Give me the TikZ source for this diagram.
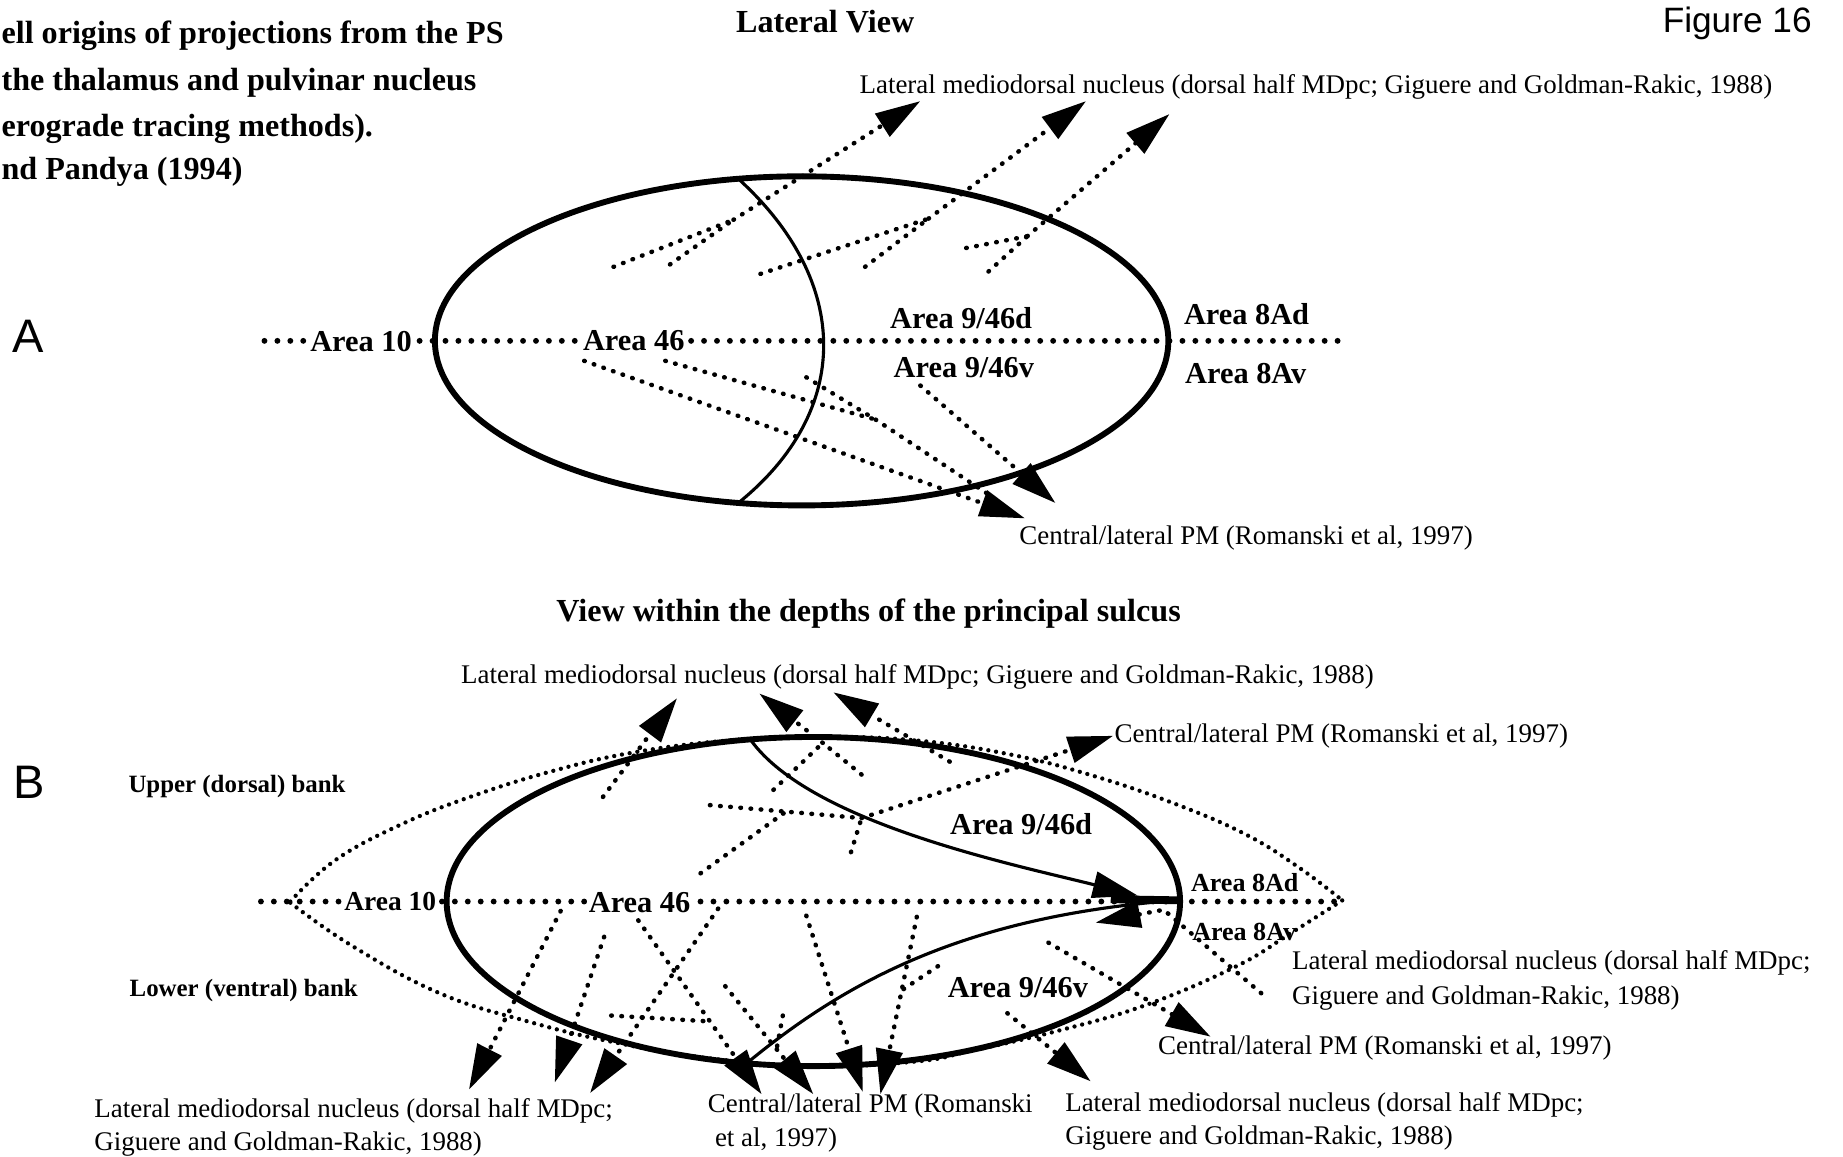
\documentclass[tikz,border=0pt]{standalone}
\usepackage{fontspec}
\setmainfont{Liberation Serif}
\newfontfamily\sansf{Liberation Sans}
\usetikzlibrary{arrows.meta}
\begin{document}
\begin{tikzpicture}[x=0.6pt,y=-0.6pt,
  >={Triangle[length=23pt,width=13.5pt]},
  hline/.style={line width=3pt,dash pattern=on 0pt off 6.6pt,line cap=round},
  dline/.style={line width=2.3pt,dash pattern=on 0.3pt off 4.9pt,line cap=round},
  lens/.style={line width=2.2pt,dash pattern=on 0pt off 4pt,line cap=round},
  oval/.style={line width=3pt},
  curve/.style={line width=1.6pt},
  txt/.style={inner sep=0pt,anchor=west,font=\fontsize{13.75}{16}\selectfont},
  area/.style={inner sep=0pt,anchor=west,font=\bfseries\fontsize{15.5}{18}\selectfont},
  areas/.style={inner sep=0pt,anchor=west,font=\bfseries\fontsize{13.3}{16}\selectfont},
  bank/.style={inner sep=0pt,anchor=west,font=\bfseries\fontsize{12.7}{15}\selectfont},
  head/.style={inner sep=0pt,font=\bfseries\fontsize{16.4}{19}\selectfont},
  panel/.style={inner sep=0pt,font=\sansf\fontsize{24}{28}\selectfont},
  mask/.style={fill=white,inner xsep=1pt}
]
\useasboundingbox (0,0) rectangle (1568,984);

% ---------- headings ----------
\node[head,anchor=base west] (t1) at (1,37) {ell origins of projections from the PS};
\node[head,anchor=base west] (t2) at (1,77) {the thalamus and pulvinar nucleus};
\node[head,anchor=base west] (t3) at (1,116) {erograde tracing methods).};
\node[head,anchor=base west] (t4) at (1,153) {nd Pandya (1994)};
\node[head,anchor=base west,font=\bfseries\fontsize{16.4}{20}\selectfont] (lv) at (626,28) {Lateral View};
\node[panel,font=\sansf\fontsize{18}{21}\selectfont] (fig) at (1478,20) {Figure 16};
\node[panel] (pA) at (24,286) {A};
\node[panel] (pB) at (25,666) {B};

% ================= PANEL A =================
\draw[oval] (682,290) ellipse [x radius=312, y radius=140];
\coordinate (aT) at (628,152); \coordinate (aB) at (628,428);
\draw[curve] (aT) .. controls (725,240) and (725,350) .. (aB);
\coordinate (aL) at (225,290); \coordinate (aR) at (1142,290);
\draw[hline] (aL) -- (aR);
\node[area,mask] (a10) at (262,291) {Area 10};
\node[area,mask] (a46) at (494,290) {Area 46};
\node[area] (a946d) at (757,271) {Area 9/46d};
\node[area] (a946v) at (760,313) {Area 9/46v};
\node[area] (a8ad) at (1007,267) {Area 8Ad};
\node[area] (a8av) at (1008,318) {Area 8Av};
\node[txt] (mdA) at (731,74) {Lateral mediodorsal nucleus (dorsal half MDpc; Giguere and Goldman-Rakic, 1988)};
\node[txt] (pmA) at (867,458) {Central/lateral PM (Romanski et al, 1997)};

% upper arrows
\coordinate (p1a) at (522,227); \coordinate (p1b) at (570,225);
\coordinate (j1) at (624,187); \coordinate (h1) at (783,86);
\draw[dline] (p1a) -- (j1); \draw[dline] (p1b) -- (j1); \draw[dline,->] (j1) -- (h1);
\coordinate (p2a) at (647,233); \coordinate (p2b) at (736,227);
\coordinate (j2) at (790,186); \coordinate (h2) at (924,86);
\draw[dline] (p2a) -- (j2); \draw[dline] (p2b) -- (j2); \draw[dline,->] (j2) -- (h2);
\coordinate (p3a) at (822,211); \coordinate (p3b) at (841,231);
\coordinate (j3) at (874,201); \coordinate (h3) at (995,97);
\draw[dline] (p3a) -- (j3); \draw[dline] (p3b) -- (j3); \draw[dline,->] (j3) -- (h3);
% lower arrows
\coordinate (q1) at (497,307); \coordinate (hq1) at (872,441);
\draw[dline,->] (q1) -- (hq1);
\coordinate (q2) at (566,307); \coordinate (q3) at (686,321);
\coordinate (jq) at (745,357); \coordinate (jq2) at (840,420);
\draw[dline] (q2) -- (jq); \draw[dline] (q3) -- (jq); \draw[dline] (jq) -- (jq2);
\coordinate (q4) at (783,328); \coordinate (hq4) at (898,428);
\draw[dline,->] (q4) -- (hq4);

% ================= PANEL B =================
\node[head,anchor=west] (vt) at (473,522) {View within the depths of the principal sulcus};
\node[txt] (mdB) at (392,576) {Lateral mediodorsal nucleus (dorsal half MDpc; Giguere and Goldman-Rakic, 1988)};
\node[txt] (pmB1) at (948,626) {Central/lateral PM (Romanski et al, 1997)};
\node[bank] (ub) at (109,669) {Upper (dorsal) bank};
\node[bank] (lb) at (110,843) {Lower (ventral) bank};
\node[txt] (mdR1) at (1099,819) {Lateral mediodorsal nucleus (dorsal half MDpc;};
\node[txt] (mdR2) at (1099,849) {Giguere and Goldman-Rakic, 1988)};
\node[txt] (pmB2) at (985,892) {Central/lateral PM (Romanski et al, 1997)};
\node[txt] (mdL1) at (80,945) {Lateral mediodorsal nucleus (dorsal half MDpc;};
\node[txt] (mdL2) at (80,973) {Giguere and Goldman-Rakic, 1988)};
\node[txt] (pmM1) at (602,941) {Central/lateral PM (Romanski};
\node[txt] (pmM2) at (608,970) {et al, 1997)};
\node[txt] (mdM1) at (906,940) {Lateral mediodorsal nucleus (dorsal half MDpc;};
\node[txt] (mdM2) at (906,968) {Giguere and Goldman-Rakic, 1988)};

\draw[oval] (692,767) ellipse [x radius=312, y radius=140];
\draw[lens] plot[smooth,tension=0.7] coordinates {(247,767) (285,732) (340,702) (400,678) (470,656) (540,640) (620,630) (700,627) (780,630) (860,642) (930,660) (1000,684) (1060,710) (1105,738) (1142,766)};
\draw[lens] plot[smooth,tension=0.7] coordinates {(247,768) (300,805) (374,845) (449,869) (519,886) (600,900) (692,907) (780,903) (826,894) (900,877) (975,855) (1052,822) (1098,794) (1142,766)};
\coordinate (bL) at (222,767); \coordinate (bR) at (1142,767);
\draw[hline] (bL) -- (bR);
\node[areas,mask,font=\bfseries\fontsize{14}{16}\selectfont] (b10) at (291,767) {Area 10};
\node[area,mask] (b46) at (499,768) {Area 46};
\node[area] (b946d) at (808,701) {Area 9/46d};
\node[area] (b946v) at (806,840) {Area 9/46v};
\node[areas] (b8ad) at (1013,751) {Area 8Ad};
\node[areas] (b8av) at (1014,793) {Area 8Av};

% solid curves
\coordinate (cu0) at (639,630); \coordinate (cu1) at (968,762);
\draw[curve,->] (cu0) .. controls (690,700) and (860,735) .. (cu1);
\coordinate (cl0) at (636,904); \coordinate (cl1) at (1000,766);
\draw[curve] (cl0) .. controls (720,835) and (820,780) .. (cl1);
\coordinate (bar0) at (945,765); \coordinate (bar1) at (1004,766);
\draw[line width=4pt] (bar0) -- (bar1);

% top arrows
\coordinate (s1) at (513,678); \coordinate (u1) at (576,594);
\draw[dline,->] (s1) -- (u1);
\coordinate (s2a) at (658,672); \coordinate (s2b) at (733,659);
\coordinate (k2) at (700,632); \coordinate (u2) at (646,590);
\draw[dline] (s2a) -- (k2); \draw[dline] (s2b) -- (k2); \draw[dline,->] (k2) -- (u2);
\coordinate (s3) at (808,648); \coordinate (u3) at (709,589);
\draw[dline,->] (s3) -- (u3);
\coordinate (s4a) at (604,685); \coordinate (s4b) at (596,743); \coordinate (s4m) at (668,691);
\coordinate (s4c) at (724,725); \coordinate (k4) at (733,696); \coordinate (u4) at (947,626);
\draw[dline] (s4a) -- (k4); \draw[dline] (s4b) -- (s4m); \draw[dline] (s4c) -- (k4);
\draw[dline,->] (k4) -- (u4);

% bottom arrows
\coordinate (l1) at (477,775); \coordinate (m1) at (399,927);
\draw[dline,->] (l1) -- (m1);
\coordinate (l2) at (514,797); \coordinate (m2) at (472,921);
\draw[dline,->] (l2) -- (m2);
\coordinate (l3) at (611,773); \coordinate (m3) at (502,930);
\draw[dline,->] (l3) -- (m3);
\coordinate (l4) at (543,783); \coordinate (m4) at (648,931);
\draw[dline,->] (l4) -- (m4);
\coordinate (l4a) at (520,864); \coordinate (l4b) at (604,869);
\draw[dline] (l4a) -- (l4b);
\coordinate (l5) at (617,839); \coordinate (m5) at (692,931);
\draw[dline,->] (l5) -- (m5);
\coordinate (l5a) at (666,864); \coordinate (l5b) at (661,891);
\draw[dline] (l5a) -- (l5b);
\coordinate (l6) at (686,779); \coordinate (m6) at (734,929);
\draw[dline,->] (l6) -- (m6);
\coordinate (l7) at (780,780); \coordinate (m7) at (749,931);
\draw[dline,->] (l7) -- (m7);
\coordinate (l7a) at (798,822); \coordinate (l7b) at (768,842);
\draw[dline] (l7a) -- (l7b);
\coordinate (r1) at (857,862); \coordinate (n1) at (928,920);
\draw[dline,->] (r1) -- (n1);
\coordinate (r2) at (892,802); \coordinate (n2) at (1030,882);
\draw[dline,->] (r2) -- (n2);
\coordinate (r3) at (1073,845); \coordinate (r3m) at (990,774); \coordinate (n3) at (932,785);
\draw[dline,->] (r3) -- (r3m) -- (n3);
\end{tikzpicture}
\end{document}
